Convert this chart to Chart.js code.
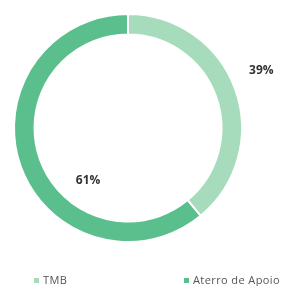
<!DOCTYPE html>
<html>
<head>
<meta charset="utf-8">
<script src="https://cdn.jsdelivr.net/npm/chart.js@4"></script>
<style>
  html, body { margin: 0; padding: 0; background: #fff; }
  #wrap { position: relative; width: 294px; height: 286px; }
  #legend { position: absolute; left: 0; top: 272px; width: 294px; height: 14px;
    font-family: 'Open Sans', sans-serif; font-size: 11px; letter-spacing: 0.4px; color: #555; }
  #legend span.item { position: absolute; top: 0; white-space: nowrap; }
  #legend i { display: inline-block; width: 5px; height: 5px; margin-right: 4px; vertical-align: 1px; }
</style>
</head>
<body>
<div id="wrap">
  <canvas id="donut"></canvas>
  <div id="legend"></div>
</div>
<script>
const categorias = ['TMB', 'Aterro de Apoio']
const valores = [39, 61]
const rotulos = ['39%', '61%']
const cores = ['#a6dcbb', '#5abf8d']

const textColor = '#333333'
const fontes = "'Open Sans', sans-serif"

// where the % labels sit, relative to the donut centre (in radii)
const rotuloPos = [[1.17, -0.50], [-0.35, 0.46]]

const percentLabels = {
  id: 'percentLabels',
  afterDatasetsDraw(chart) {
    const ctx = chart.ctx
    const arc = chart.getDatasetMeta(0).data[0]
    const r = arc.outerRadius
    ctx.save()
    ctx.font = "bold 12px " + fontes
    ctx.fillStyle = textColor
    ctx.textAlign = 'center'
    ctx.textBaseline = 'middle'
    rotulos.forEach((t, i) => {
      ctx.fillText(t, arc.x + rotuloPos[i][0] * r, arc.y + rotuloPos[i][1] * r)
    })
    ctx.restore()
  }
}

new Chart(document.getElementById('donut').getContext('2d'), {
  type: 'doughnut',
  data: {
    labels: categorias,
    datasets: [{
      data: valores,
      backgroundColor: cores,
      borderColor: '#ffffff',
      borderWidth: 2
    }]
  },
  options: {
    responsive: true,
    maintainAspectRatio: false,
    animation: false,
    cutout: '82%',
    layout: { padding: { left: 13, right: 51, top: 13, bottom: 43 } },
    plugins: {
      legend: { display: false },
      tooltip: { enabled: false }
    }
  },
  plugins: [percentLabels]
})

// legend below the chart
const legendX = [34, 184]
const legend = document.getElementById('legend')
categorias.forEach((c, i) => {
  const s = document.createElement('span')
  s.className = 'item'
  s.style.left = legendX[i] + 'px'
  s.innerHTML = '<i style="background:' + cores[i] + '"></i>' + c
  legend.appendChild(s)
})
</script>
</body>
</html>
